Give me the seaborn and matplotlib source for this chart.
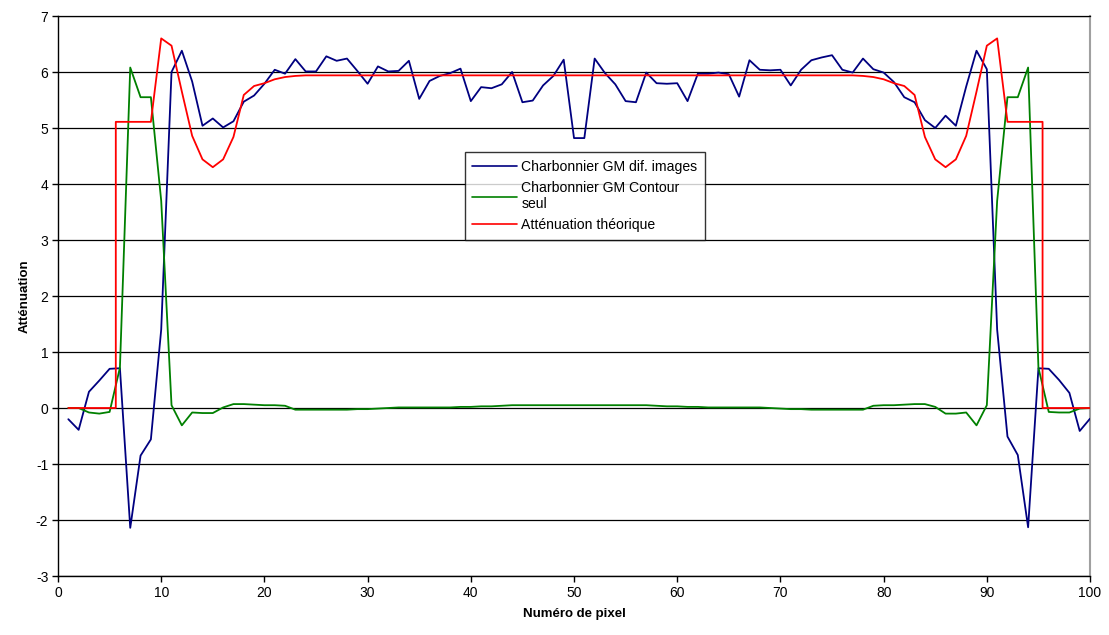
import numpy as np
import pandas as pd
import matplotlib
matplotlib.use("Agg")
import matplotlib.pyplot as plt
import seaborn as sns

# ---- data ----
pixels = list(range(1, 101))

blue = [-0.20, -0.39, 0.29, 0.49, 0.70, 0.71, -2.14, -0.85, -0.56, 1.40,
        6.00, 6.38, 5.83, 5.04, 5.17, 5.01, 5.12, 5.47, 5.58, 5.79,
        6.04, 5.97, 6.23, 6.01, 6.01, 6.28, 6.20, 6.24, 6.02, 5.79,
        6.10, 6.01, 6.02, 6.20, 5.52, 5.84, 5.93, 5.98, 6.06, 5.48,
        5.73, 5.71, 5.78, 6.00, 5.46, 5.49, 5.76, 5.93, 6.22, 4.82,
        4.82, 6.24, 5.98, 5.78, 5.48, 5.46, 5.99, 5.80, 5.79, 5.80,
        5.48, 5.97, 5.97, 5.99, 5.96, 5.56, 6.21, 6.04, 6.03, 6.04,
        5.76, 6.04, 6.21, 6.26, 6.30, 6.04, 5.99, 6.24, 6.05, 5.99,
        5.82, 5.55, 5.46, 5.14, 5.00, 5.22, 5.04, 5.74, 6.38, 6.05,
        1.40, -0.51, -0.84, -2.13, 0.71, 0.70, 0.50, 0.27, -0.41, -0.19]

green = [0.00, 0.00, -0.08, -0.10, -0.07, 0.72, 6.08, 5.55, 5.55, 3.70,
         0.05, -0.31, -0.08, -0.09, -0.09, 0.01, 0.07, 0.07, 0.06, 0.05,
         0.05, 0.04, -0.03, -0.03, -0.03, -0.03, -0.03, -0.03, -0.02, -0.02,
         -0.01, 0.00, 0.01, 0.01, 0.01, 0.01, 0.01, 0.01, 0.02, 0.02,
         0.03, 0.03, 0.04, 0.05, 0.05, 0.05, 0.05, 0.05, 0.05, 0.05,
         0.05, 0.05, 0.05, 0.05, 0.05, 0.05, 0.05, 0.04, 0.03, 0.03,
         0.02, 0.02, 0.01, 0.01, 0.01, 0.01, 0.01, 0.01, 0.00, -0.01,
         -0.02, -0.02, -0.03, -0.03, -0.03, -0.03, -0.03, -0.03, 0.04, 0.05,
         0.05, 0.06, 0.07, 0.07, 0.02, -0.10, -0.10, -0.08, -0.31, 0.05,
         3.70, 5.55, 5.55, 6.08, 0.72, -0.07, -0.08, -0.08, -0.01, 0.00]

red_x = [1, 2, 3, 4, 5, 5.6, 5.6, 6, 7, 8, 9, 10,
         11, 12, 13, 14, 15, 16, 17, 18, 19, 20,
         21, 22, 23, 24, 30, 40, 50, 60, 70, 77,
         78, 79, 80, 81, 82, 83, 84, 85, 86, 87,
         88, 89, 90, 91, 92, 93, 94, 95, 95.4, 95.4,
         96, 97, 98, 99, 100]
red_y = [0.00, 0.00, 0.00, 0.00, 0.00, 0.00, 5.11, 5.11, 5.11, 5.11, 5.11, 6.60,
         6.47, 5.65, 4.86, 4.44, 4.30, 4.44, 4.84, 5.59, 5.75, 5.80,
         5.87, 5.91, 5.93, 5.94, 5.94, 5.94, 5.94, 5.94, 5.94, 5.94,
         5.93, 5.91, 5.87, 5.80, 5.75, 5.59, 4.84, 4.44, 4.30, 4.44,
         4.86, 5.65, 6.47, 6.60, 5.11, 5.11, 5.11, 5.11, 5.11, 0.00,
         0.00, 0.00, 0.00, 0.00, 0.00]

labels = ["Charbonnier GM dif. images",
          "Charbonnier GM Contour\nseul",
          "Atténuation théorique"]
colors = ["#000080", "#008000", "#FF0000"]

xticks = list(range(0, 101, 10))
yticks = list(range(-3, 8))

# ---- plot ----
sns.set_theme(style="white")
plt.rcParams['font.family'] = ['Liberation Sans', 'DejaVu Sans']
plt.rcParams['axes.unicode_minus'] = False

fig = plt.figure(figsize=(11.09, 6.35), dpi=100)
ax = fig.add_axes([0.0523, 0.0929, 0.9306, 0.8819])

df_b = pd.DataFrame({"x": pixels, "y": blue})
df_g = pd.DataFrame({"x": pixels, "y": green})
df_r = pd.DataFrame({"x": red_x, "y": red_y})

sns.lineplot(data=df_b, x="x", y="y", ax=ax, color=colors[0], lw=1.3,
             estimator=None, sort=False, label=labels[0], zorder=3)
sns.lineplot(data=df_g, x="x", y="y", ax=ax, color=colors[1], lw=1.3,
             estimator=None, sort=False, label=labels[1], zorder=3)
sns.lineplot(data=df_r, x="x", y="y", ax=ax, color=colors[2], lw=1.3,
             estimator=None, sort=False, label=labels[2], zorder=3)

ax.set_xlim(0, 100)
ax.set_ylim(-3, 7)
ax.set_xticks(xticks)
ax.set_yticks(yticks)
ax.yaxis.grid(True, color="black", lw=0.9)
ax.xaxis.grid(False)
ax.set_axisbelow(True)

for s in ["left", "bottom"]:
    ax.spines[s].set_color("black")
    ax.spines[s].set_linewidth(1.0)
ax.spines["top"].set_color("black")
ax.spines["top"].set_linewidth(0.9)
ax.spines["right"].set_color("#a0a0a0")
ax.spines["right"].set_linewidth(1.5)

ax.tick_params(axis="both", which="major", direction="out", length=4,
               width=1, color="black", labelsize=10, labelcolor="black",
               bottom=True, left=True, pad=3)

ax.set_xlabel("Numéro de pixel", fontsize=9.5, fontweight="bold",
              labelpad=6, color="black")
ax.set_ylabel("Atténuation", fontsize=9.5, fontweight="bold",
              labelpad=4, color="black")

leg = ax.legend(loc="upper left", bbox_to_anchor=(0.394, 0.757),
                frameon=True, fancybox=False, fontsize=10.1,
                handlelength=3.2, handletextpad=0.3, labelspacing=0.5,
                borderpad=0.55, borderaxespad=0, labelcolor="black")
leg.get_frame().set_edgecolor("black")
leg.get_frame().set_linewidth(1.0)
leg.get_frame().set_facecolor("white")
for h in leg.get_lines():
    h.set_linewidth(1.2)

fig.savefig("out.png", dpi=100)
